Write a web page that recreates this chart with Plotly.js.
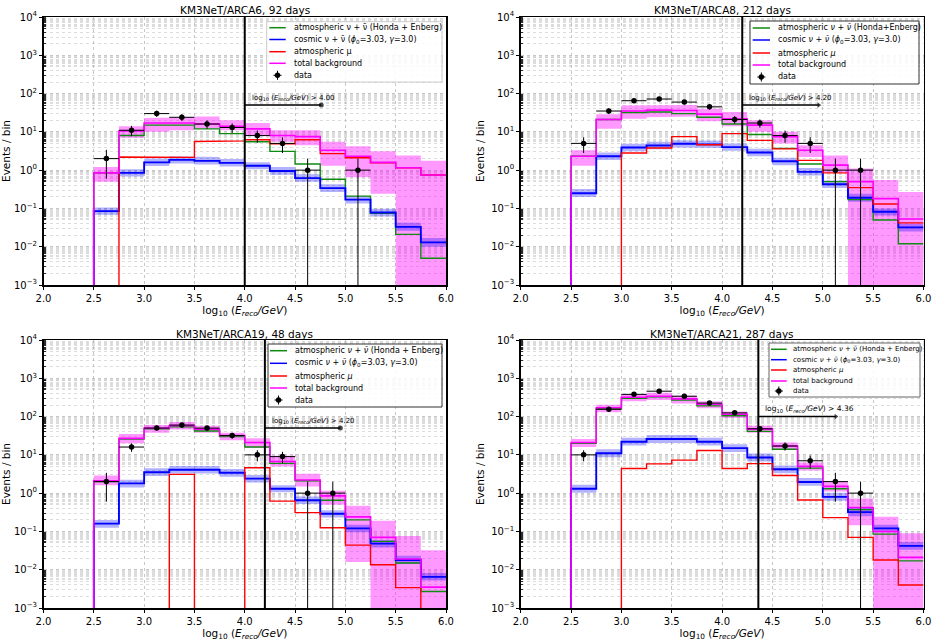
<!DOCTYPE html>
<html><head><meta charset="utf-8">
<script src="https://cdn.plot.ly/plotly-3.0.1.min.js"></script>
<style>html,body{margin:0;padding:0;background:#fff}</style></head>
<body><div id="chart" style="width:937px;height:643px"></div>
<script>
const W = 937, H = 643;
const floorVal = 1e-4; // empty bins (below the axis)
const binEdges = [2.5,2.75,3,3.25,3.5,3.75,4,4.25,4.5,4.75,5,5.25,5.5,5.75,6];
const dataX = [2.625,2.875,3.125,3.375,3.625,3.875,4.125,4.375,4.625,4.875,5.125,5.375];
const xTickVals = [2,2.5,3,3.5,4,4.5,5,5.5,6];
const xTickText = ['2.0','2.5','3.0','3.5','4.0','4.5','5.0','5.5','6.0'];
const yTickVals = [1e-3,1e-2,1e-1,1,10,100,1000,10000];
const yTickText = ['10<sup>−3</sup>','10<sup>−2</sup>','10<sup>−1</sup>','10<sup>0</sup>','10<sup>1</sup>','10<sup>2</sup>','10<sup>3</sup>','10<sup>4</sup>'];
const minorMult = [2,3,4,5,5.5,6,6.5,7,7.5,8,8.5,9,9.5];
const F = floorVal;

// ARCA6
const a6Title = 'KM3NeT/ARCA6, 92 days';
const a6Atm = [0.85,8,15,15,12,9,5.5,3.1,1.45,0.58,0.21,0.075,0.021,0.005];
const a6Cos = [0.085,0.85,1.6,1.85,1.75,1.55,1.3,0.95,0.62,0.34,0.17,0.078,0.033,0.013];
const a6CosHi = [0.105,1.05,2.0,2.3,2.2,1.95,1.6,1.2,0.78,0.43,0.21,0.098,0.042,0.017];
const a6CosLo = [0.068,0.68,1.28,1.48,1.4,1.25,1.05,0.76,0.5,0.27,0.135,0.062,0.026,0.010];
const a6Mu = [F,2.2,2.2,2.15,5.6,5.8,6.2,4.9,6.2,2.7,2.1,1.55,1.15,0.75];
const a6Tot = [0.85,10.5,17,17,16,14,12,8,7.5,3.3,2.3,1.6,1.15,0.75];
const a6TotHi = [1.2,14,23,24,25,20,17,11,11,5.5,4.2,3.1,2.4,1.75];
const a6TotLo = [0.5,7,10,11,12,11,8,5.5,4.5,1.3,0.65,0.24,F,F];
const a6Data = [2,11,30,24,16,13,8,5,1,null,1,null];
const a6ErrHi = [1.4,3.3,5.5,4.9,4,3.6,2.8,2.2,1,0,1,0];
const a6ErrLo = [1.4,3.3,5.5,4.9,4,3.6,2.8,2.2,0.9999,0,0.9999,0];

// ARCA8
const a8Title = 'KM3NeT/ARCA8, 212 days';
const a8Atm = [2.3,21,32,33,30,24,16,8.5,3.7,1.45,0.5,0.17,0.05,0.012];
const a8Cos = [0.25,2.3,3.9,4.4,4.9,4.7,4.0,2.9,1.7,0.9,0.43,0.19,0.082,0.032];
const a8CosHi = [0.32,2.9,4.9,5.5,6,5.9,5,3.6,2.1,1.13,0.54,0.24,0.10,0.04];
const a8CosLo = [0.2,1.85,3.1,3.5,3.9,3.8,3.2,2.3,1.35,0.72,0.34,0.15,0.065,0.025];
const a8Mu = [F,F,2.8,3.8,7.5,4.6,9,6,3.6,1.8,0.85,0.35,0.13,0.042];
const a8Tot = [2.3,21,35,37,36,29,22,15,7.5,3.3,1.35,0.5,0.18,0.053];
const a8TotHi = [3.3,29,49,50,50,40,33,20,10,4.5,2.4,1.1,0.55,0.27];
const a8TotLo = [1.3,12,22,24,25,19,14,10,5,2.2,0.9,F,F,F];
const a8Data = [5,35,65,72,60,45,21,17,8,5,1,1];
const a8ErrHi = [2.2,5.9,8.1,8.5,7.7,6.7,4.6,4.1,2.8,2.2,1,1];
const a8ErrLo = [2.2,5.9,8.1,8.5,7.7,6.7,4.6,4.1,2.8,2.2,0.9999,0.9999];

// ARCA19
const a19Title = 'KM3NeT/ARCA19, 48 days';
const a19Atm = [2,26,48,54,42,30,16,6,2.1,0.65,0.2,0.055,0.015,0.0027];
const a19Cos = [0.16,1.8,3.5,4.1,4.1,3.4,2.4,1.3,0.65,0.29,0.12,0.048,0.018,0.0065];
const a19CosHi = [0.2,2.25,4.5,5.1,5.1,4.3,3.0,1.6,0.82,0.36,0.15,0.06,0.023,0.0082];
const a19CosLo = [0.125,1.4,2.8,3.25,3.25,2.7,1.9,1.05,0.52,0.23,0.095,0.038,0.014,0.0052];
const a19Mu = [F,F,F,3.1,F,F,4.6,0.62,0.31,0.125,0.044,0.0135,0.0034,F];
const a19Tot = [2.1,27,50,58,47,32,21,6.7,2.2,0.85,0.24,0.07,0.019,0.0035];
const a19TotHi = [2.9,35,60,72,58,38,27,9.5,3.2,1.15,0.47,0.19,0.076,0.032];
const a19TotLo = [1.6,20,38,46,38,24,15,5,1.5,0.5,0.016,F,F,F];
const a19Data = [2,16,50,60,50,32,10,9,1,1,null,null];
const a19ErrHi = [1.4,4,7,7.7,7,5.7,3.2,3,1,1,0,0];
const a19ErrLo = [1.4,4,7,7.7,7,5.7,3.2,3,0.9999,0.9999,0,0];

// ARCA21
const a21Title = 'KM3NeT/ARCA21, 287 days';
const a21Atm = [20,160,300,330,270,190,105,41,14,4.5,1.3,0.37,0.085,0.017];
const a21Cos = [1.3,11,22,26,26,22,15,8.5,4.2,1.95,0.8,0.32,0.12,0.042];
const a21CosHi = [1.65,14,28,33,33,28,19,10.8,5.3,2.5,1.02,0.41,0.15,0.053];
const a21CosLo = [1.03,8.7,17.5,20.5,20.5,17.5,11.8,6.7,3.3,1.55,0.63,0.25,0.095,0.033];
const a21Mu = [F,F,4.4,5.8,7.3,13,4.4,5.9,2.9,0.66,0.23,0.07,0.018,0.004];
const a21Tot = [21,170,320,340,290,210,115,47,17,5,1.5,0.42,0.1,0.021];
const a21TotHi = [26,205,390,420,350,250,135,58,21,6.3,2.0,0.72,0.24,0.09];
const a21TotLo = [16,130,250,270,220,165,92,38,13.5,3.9,1.1,0.144,F,F];
const a21Data = [10,155,380,460,340,225,125,48,17,7,2,1];
const a21ErrHi = [3.2,12.4,19.5,21.4,18.4,15,11.2,6.9,4.1,2.6,1.4,1];
const a21ErrLo = [3.2,12.4,19.5,21.4,18.4,15,11.2,6.9,4.1,2.6,1.4,0.9999];

const thresholds = [4.0,4.2,4.2,4.36];
const arrowEnds = [4.76,4.96,4.95,5.13];
const arrowY = [50,50,50,100];
const cutLabels = ['4.00','4.20','4.20','4.36'];

const COL = {atm:'#108a10', cos:'#0000ff', mu:'#ff0000', tot:'#ff00ff'};
const LEG_TEXT = {
  upright:['atmospheric ν + ν̄ (Honda + Enberg)','cosmic ν + ν̄ (<i>ϕ</i><sub>0</sub>=3.03, <i>γ</i>=3.0)','atmospheric μ','total background','data'],
  italicA:['atmospheric <i>ν + ν̄</i> (Honda+Enberg)','cosmic <i>ν + ν̄</i> (<i>ϕ</i><sub>0</sub>=3.03, <i>γ</i>=3.0)','atmospheric <i>μ</i>','total background','data'],
  italicB:['atmospheric <i>ν + ν̄</i> (Honda + Enberg)','cosmic <i>ν + ν̄</i> (<i>ϕ</i><sub>0</sub>=3.03, <i>γ</i>=3.0)','atmospheric <i>μ</i>','total background','data']
};

const panels = [
 {t:a6Title,atm:a6Atm,cos:a6Cos,cosHi:a6CosHi,cosLo:a6CosLo,mu:a6Mu,tot:a6Tot,totHi:a6TotHi,totLo:a6TotLo,d:a6Data,eh:a6ErrHi,el:a6ErrLo,
  box:[43.5,446,17,285],leg:{rect:[266.7,442,21.7,82],bc:'#cccccc',sx:[269.3,285.7],tx:291.7,rows:[27.7,39.5,51.7,63.3,75.3],fs:8,txt:LEG_TEXT.upright},head:'circle',cutFs:7,cutDy:7},
 {t:a8Title,atm:a8Atm,cos:a8Cos,cosHi:a8CosHi,cosLo:a8CosLo,mu:a8Mu,tot:a8Tot,totHi:a8TotHi,totLo:a8TotLo,d:a8Data,eh:a8ErrHi,el:a8ErrLo,
  box:[520.7,923.5,17,285],leg:{rect:[750,919,21,84],bc:'#333333',sx:[752.7,770],tx:775.7,rows:[28,40,53,65,77],fs:8,txt:LEG_TEXT.italicA},head:'triangle-right',cutFs:7,cutDy:7},
 {t:a19Title,atm:a19Atm,cos:a19Cos,cosHi:a19CosHi,cosLo:a19CosLo,mu:a19Mu,tot:a19Tot,totHi:a19TotHi,totLo:a19TotLo,d:a19Data,eh:a19ErrHi,el:a19ErrLo,
  box:[43.5,446,340,608],leg:{rect:[268,442,344,407],bc:'#333333',sx:[270,287],tx:293,rows:[350.7,363.3,376,388,400],fs:8,txt:LEG_TEXT.italicB},head:'circle',cutFs:7,cutDy:7},
 {t:a21Title,atm:a21Atm,cos:a21Cos,cosHi:a21CosHi,cosLo:a21CosLo,mu:a21Mu,tot:a21Tot,totHi:a21TotHi,totLo:a21TotLo,d:a21Data,eh:a21ErrHi,el:a21ErrLo,
  box:[520.7,923.5,340,608],leg:{rect:[769,920,343,397],bc:'#666666',sx:[771,786.7],tx:791,rows:[349.3,359.7,370,381,391],fs:7,txt:LEG_TEXT.italicB},head:'triangle-right',cutFs:7.5,cutDy:8}
];

const FONT = 'DejaVu Sans, sans-serif';
const px = x => x / W, py = y => 1 - y / H;

function stepLine(vals){
  const x=[binEdges[0]], y=[floorVal];
  vals.forEach((v,i)=>{ x.push(binEdges[i],binEdges[i+1]); y.push(v,v); });
  return {x,y};
}
function band(hi,lo){
  const u=[],v=[];
  hi.forEach((h,i)=>{u.push(binEdges[i],binEdges[i+1]); v.push(h,h);});
  for(let i=lo.length-1;i>=0;i--){u.push(binEdges[i+1],binEdges[i]); v.push(lo[i],lo[i]);}
  u.push(u[0]); v.push(v[0]);
  return {x:u,y:v};
}
const minorVals=[];
for(let e=-3;e<4;e++) minorMult.forEach(m=>minorVals.push(m*Math.pow(10,e)));

const traces=[], shapes=[], annotations=[], layout={
  width:W,height:H,margin:{l:0,r:0,t:0,b:0},showlegend:false,paper_bgcolor:'#fff',plot_bgcolor:'#fff',
  font:{family:FONT,color:'#000',size:10},hovermode:false
};

panels.forEach((p,i)=>{
  const n=i===0?'':String(i+1), xa='x'+n, ya='y'+n;
  const common={xaxis:xa,yaxis:ya,hoverinfo:'skip'};
  const bT=band(p.totHi,p.totLo), bC=band(p.cosHi,p.cosLo);
  traces.push({...common,...bT,mode:'lines',fill:'toself',fillcolor:'rgba(255,0,255,0.4)',line:{width:0}});
  traces.push({...common,...bC,mode:'lines',fill:'toself',fillcolor:'rgba(0,0,255,0.3)',line:{width:0}});
  [['atm',1.4],['cos',1.9],['mu',1.4],['tot',1.6]].forEach(([k,w])=>{
    traces.push({...common,...stepLine(p[k]),mode:'lines',line:{color:COL[k],width:w,shape:'linear'}});
  });
  traces.push({...common,x:[thresholds[i],thresholds[i]],y:[1e-3,1e4],mode:'lines',line:{color:'#000',width:2}});
  traces.push({...common,x:[thresholds[i],arrowEnds[i]],y:[arrowY[i],arrowY[i]],mode:'lines+markers',
    line:{color:'#000',width:1.5},marker:{color:'#000',size:[0,5],symbol:p.head,line:{width:0}}});
  traces.push({...common,x:dataX,y:p.d,mode:'markers',marker:{color:'#000',size:5.5,symbol:'circle'},
    error_y:{type:'data',symmetric:false,array:p.eh,arrayminus:p.el,color:'#000',thickness:1,width:0},
    error_x:{type:'constant',value:0.125,color:'#000',thickness:1,width:0}});

  const [x0,x1,y0,y1]=p.box;
  layout['xaxis'+n]={domain:[px(x0),px(x1)],anchor:ya,range:[2,6],type:'linear',tickmode:'array',tickvals:xTickVals,ticktext:xTickText,
    showline:true,mirror:true,linecolor:'#000',linewidth:1.5,ticks:'outside',ticklen:3,tickwidth:1,tickcolor:'#000',
    tickfont:{size:10,family:FONT},showgrid:true,gridcolor:'#b8b8b8',griddash:'dot',gridwidth:0.8,zeroline:false,
    title:{text:'log<sub>10</sub> (<i>E<sub>reco</sub>/GeV</i>)',font:{size:10.5,family:FONT},standoff:4}};
  layout['yaxis'+n]={domain:[py(y1),py(y0)],anchor:xa,type:'log',range:[-3,4],tickmode:'array',tickvals:yTickVals,ticktext:yTickText,
    showline:true,mirror:true,linecolor:'#000',linewidth:1.5,ticks:'outside',ticklen:3,tickwidth:1,tickcolor:'#000',
    tickfont:{size:10,family:FONT},showgrid:true,gridcolor:'#b8b8b8',griddash:'dot',gridwidth:0.8,zeroline:false,
    minor:{tickmode:'array',tickvals:minorVals,showgrid:true,gridcolor:'#c4c4c4',griddash:'dot',gridwidth:0.6,ticks:'inside',ticklen:2,tickwidth:0.8,tickcolor:'#000'},
    title:{text:'Events / bin',font:{size:10.5,family:FONT},standoff:4}};

  annotations.push({xref:'paper',yref:'paper',x:px((x0+x1)/2),y:py(y0-6.5),text:p.t,showarrow:false,xanchor:'center',yanchor:'middle',font:{size:10.5,family:FONT}});
  annotations.push({xref:xa,yref:ya,x:thresholds[i]+0.05,y:Math.log10(arrowY[i]),yshift:p.cutDy,
    text:'log<sub>10</sub> (<i>E<sub>reco</sub>/GeV</i>) &gt; '+cutLabels[i],showarrow:false,xanchor:'left',yanchor:'middle',font:{size:p.cutFs,family:FONT}});

  const L=p.leg, [rx0,rx1,ry0,ry1]=L.rect;
  shapes.push({type:'rect',xref:'paper',yref:'paper',x0:px(rx0),x1:px(rx1),y0:py(ry1),y1:py(ry0),fillcolor:'rgba(255,255,255,0.85)',line:{color:L.bc,width:1},layer:'above'});
  ['atm','cos','mu','tot'].forEach((k,j)=>{
    shapes.push({type:'line',xref:'paper',yref:'paper',x0:px(L.sx[0]),x1:px(L.sx[1]),y0:py(L.rows[j]),y1:py(L.rows[j]),line:{color:COL[k],width:1.5},layer:'above'});
  });
  const cx=(L.sx[0]+L.sx[1])/2, cy=L.rows[4];
  shapes.push({type:'line',xref:'paper',yref:'paper',x0:px(cx),x1:px(cx),y0:py(cy-4.5),y1:py(cy+4.5),line:{color:'#000',width:1},layer:'above'});
  shapes.push({type:'line',xref:'paper',yref:'paper',x0:px(cx-4),x1:px(cx+4),y0:py(cy),y1:py(cy),line:{color:'#000',width:1},layer:'above'});
  shapes.push({type:'circle',xref:'paper',yref:'paper',x0:px(cx-2.7),x1:px(cx+2.7),y0:py(cy+2.7),y1:py(cy-2.7),fillcolor:'#000',line:{width:0},layer:'above'});
  L.txt.forEach((t,j)=>{
    annotations.push({xref:'paper',yref:'paper',x:px(L.tx),y:py(L.rows[j]),text:t,showarrow:false,xanchor:'left',yanchor:'middle',align:'left',font:{size:L.fs,family:FONT}});
  });
});
layout.shapes=shapes; layout.annotations=annotations;
Plotly.newPlot('chart',traces,layout,{displayModeBar:false,staticPlot:true});
</script></body></html>
